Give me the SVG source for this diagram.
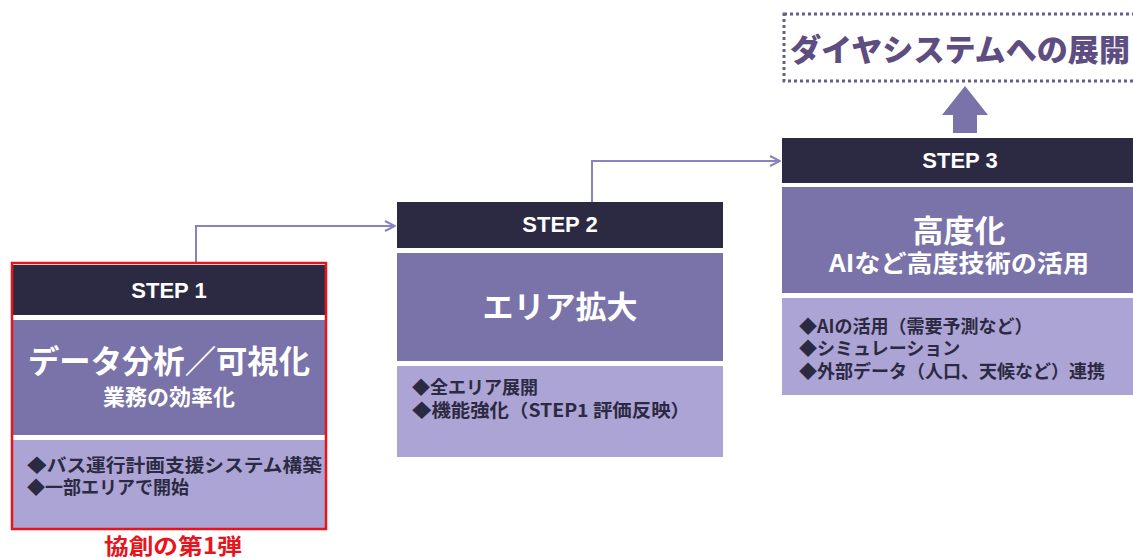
<svg xmlns="http://www.w3.org/2000/svg" width="1133" height="558" viewBox="0 0 1133 558">
<style>
.hd{fill:#2c2a42}
.md{fill:#7a73a9}
.lt{fill:#aca4d5}
.st{font-family:"Liberation Sans",Arial,sans-serif;font-weight:bold;font-size:22px;fill:#ffffff;text-anchor:middle}
.tt{font-family:"Noto Sans CJK JP","Noto Sans",sans-serif;font-weight:bold;fill:#ffffff;text-anchor:middle}
.bl{font-family:"Noto Sans CJK JP","Noto Sans",sans-serif;font-weight:bold;fill:#2c2a42;font-size:18px}
.cn{fill:none;stroke:#8a82bd;stroke-width:2}
</style>
<defs>
<marker id="ah" viewBox="0 0 12 12" refX="11" refY="6" markerWidth="12" markerHeight="12" markerUnits="userSpaceOnUse" orient="auto">
<path d="M1,1 L11,6 L1,11" fill="none" stroke="#8a82bd" stroke-width="2"/>
</marker>
</defs>
<g id="connectors">
<path class="cn" d="M196 263 V226 H395" marker-end="url(#ah)"/>
<path class="cn" d="M592 202 V161 H780" marker-end="url(#ah)"/>
<path d="M953 133 V115 H942 L965 86 L988 115 H977 V133 Z" fill="#7a73a9"/>
</g>
<g id="step1">
<rect class="hd" x="13" y="265" width="312" height="50"/>
<rect class="md" x="13" y="320" width="312" height="115"/>
<rect class="lt" x="13" y="440" width="312" height="88"/>
<rect x="12" y="263" width="314" height="266" fill="none" stroke="#e8141c" stroke-width="2.5"/>
<text class="st" x="169" y="298">STEP 1</text>
<text class="tt" x="169" y="373" font-size="32" textLength="282" lengthAdjust="spacingAndGlyphs">データ分析／可視化</text>
<text class="tt" x="169" y="405" font-size="22">業務の効率化</text>
<text class="bl" x="27" y="472" textLength="295" lengthAdjust="spacingAndGlyphs">◆バス運行計画支援システム構築</text>
<text class="bl" x="27" y="494">◆一部エリアで開始</text>
</g>
<g id="step1-label">
<text x="173" y="554" font-family="'Noto Sans CJK JP','Noto Sans',sans-serif" font-weight="bold" font-size="22" fill="#e8141c" text-anchor="middle" textLength="138" lengthAdjust="spacingAndGlyphs">協創の第1弾</text>
</g>
<g id="step2">
<rect class="hd" x="397" y="202" width="326" height="46"/>
<rect class="md" x="397" y="253" width="326" height="108"/>
<rect class="lt" x="397" y="366" width="326" height="91"/>
<text class="st" x="560" y="232">STEP 2</text>
<text class="tt" x="560" y="318" font-size="31">エリア拡大</text>
<text class="bl" x="412" y="394">◆全エリア展開</text>
<text class="bl" x="412" y="417" textLength="278" lengthAdjust="spacingAndGlyphs">◆機能強化（STEP1 評価反映）</text>
</g>
<g id="step3">
<rect class="hd" x="782" y="138" width="351" height="45"/>
<rect class="md" x="782" y="187" width="351" height="106"/>
<rect class="lt" x="782" y="298" width="351" height="97"/>
<text class="st" x="960" y="168">STEP 3</text>
<text class="tt" x="959" y="242" font-size="31">高度化</text>
<text class="tt" x="959" y="272" font-size="24" textLength="260" lengthAdjust="spacingAndGlyphs">AIなど高度技術の活用</text>
<text class="bl" x="799" y="333">◆AIの活用（需要予測など）</text>
<text class="bl" x="799" y="355">◆シミュレーション</text>
<text class="bl" x="799" y="378" textLength="306" lengthAdjust="spacingAndGlyphs">◆外部データ（人口、天候など）連携</text>
</g>
<g id="goal">
<rect x="784" y="14" width="360" height="67" fill="none" stroke="#6a5c8c" stroke-width="3" stroke-dasharray="3 3"/>
<text x="960" y="61" font-family="'Noto Sans CJK JP','Noto Sans',sans-serif" font-weight="900" font-size="31" fill="#5e4d80" text-anchor="middle" textLength="340" lengthAdjust="spacingAndGlyphs">ダイヤシステムへの展開</text>
</g>
</svg>
